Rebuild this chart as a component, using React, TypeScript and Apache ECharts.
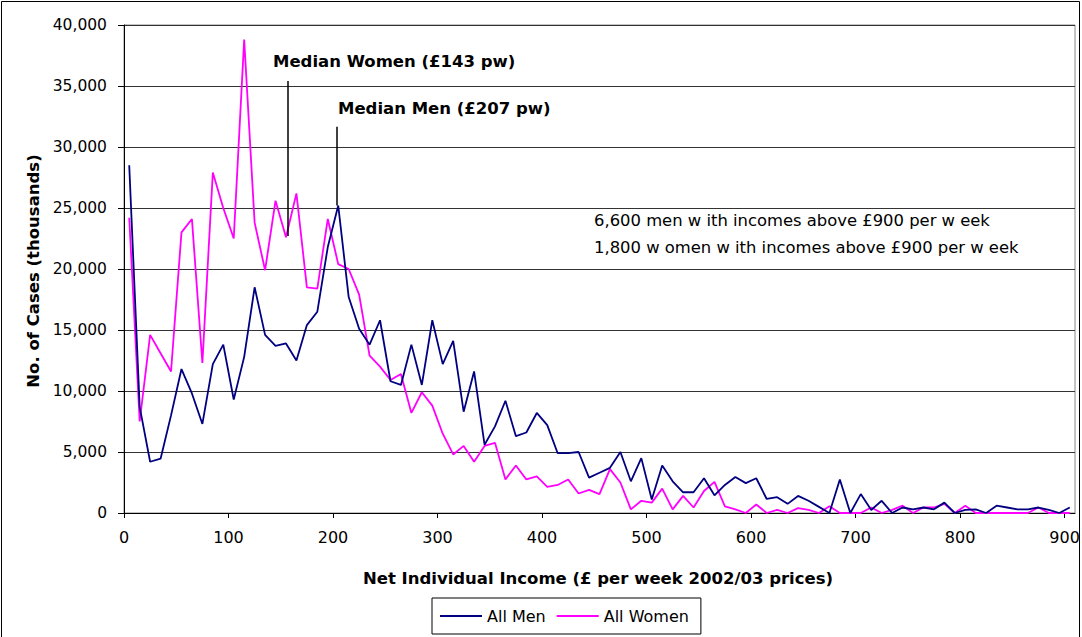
import React, { useEffect, useRef } from "react";
import * as echarts from "echarts";

// Income band mid-points (£ per week)
const incomeBands = [
  5, 15, 25, 35, 45, 55, 65, 75, 85, 95,
  105, 115, 125, 135, 145, 155, 165, 175, 185, 195,
  205, 215, 225, 235, 245, 255, 265, 275, 285, 295,
  305, 315, 325, 335, 345, 355, 365, 375, 385, 395,
  405, 415, 425, 435, 445, 455, 465, 475, 485, 495,
  505, 515, 525, 535, 545, 555, 565, 575, 585, 595,
  605, 615, 625, 635, 645, 655, 665, 675, 685, 695,
  705, 715, 725, 735, 745, 755, 765, 775, 785, 795,
  805, 815, 825, 835, 845, 855, 865, 875, 885, 895,
  905,
];

const allMen = [
  28500, 8700, 4200, 4450, 8000, 11800, 9800, 7300, 12200, 13800,
  9300, 12800, 18500, 14600, 13700, 13900, 12500, 15400, 16500, 21800,
  25200, 17700, 15100, 13800, 15800, 10800, 10500, 13800, 10500, 15800,
  12200, 14100, 8300, 11600, 5600, 7100, 9200, 6300, 6600, 8200,
  7200, 4900, 4900, 5000, 2900, 3300, 3700, 5000, 2600, 4500,
  1100, 3900, 2600, 1700, 1700, 2850, 1450, 2300, 2950, 2450,
  2850, 1150, 1300, 750, 1400, 1000, 500, 0, 2750, 0,
  1550, 250, 1000, 0, 450, 300, 450, 300, 850, 0,
  250, 300, 0, 600, 450, 300, 300, 450, 250, 0,
  450,
];

const allWomen = [
  24200, 7500, 14600, 13100, 11600, 23000, 24100, 12300, 27900, 25000,
  22500, 38800, 23800, 19900, 25600, 22600, 26200, 18500, 18400, 24100,
  20400, 20000, 17900, 12900, 12000, 10900, 11400, 8200, 9900, 8800,
  6500, 4800, 5500, 4200, 5500, 5750, 2750, 3900, 2750, 3000,
  2150, 2300, 2750, 1600, 1900, 1550, 3600, 2500, 300, 1000,
  850, 2000, 300, 1400, 450, 1800, 2550, 550, 300, 0,
  700, 0, 250, 0, 400, 250, 0, 550, 0, 0,
  0, 450, 0, 250, 600, 0, 450, 450, 750, 0,
  600, 0, 0, 0, 0, 0, 0, 450, 0, 0,
  0,
];

const xTickValues = [0, 100, 200, 300, 400, 500, 600, 700, 800, 900];

const medianWomenLine = { x: 157, from: 22700, to: 35400 };
const medianMenLine = { x: 204, from: 25200, to: 31650 };

const medianWomenLabel = "Median Women (£143 pw)";
const medianMenLabel = "Median Men (£207 pw)";
const noteLines = [
  "6,600 men w ith incomes above £900 per w eek",
  "1,800 w omen w ith incomes above £900 per w eek",
];
const yTitle = "No. of Cases (thousands)";
const xTitle = "Net Individual Income (£ per week 2002/03 prices)";

const FONT = '"DejaVu Sans", "Liberation Sans", Arial, sans-serif';

function textEl(
  text: string,
  x: number,
  y: number,
  opts: { bold?: boolean; size?: number; align?: string; rotation?: number }
) {
  const size = opts.size ?? 16;
  const weight = opts.bold ? "bold" : "normal";
  return {
    type: "text",
    x,
    y,
    rotation: opts.rotation ?? 0,
    silent: true,
    style: {
      text,
      fill: "#000",
      font: `${weight} ${size}px ${FONT}`,
      fontSize: size,
      fontWeight: weight,
      fontFamily: FONT,
      align: opts.align ?? "left",
      textAlign: opts.align ?? "left",
      verticalAlign: "middle",
      textVerticalAlign: "middle",
    },
  };
}

export default function App() {
  const ref = useRef<HTMLDivElement>(null);

  useEffect(() => {
    document.body.style.margin = "0";
    if (!ref.current) return;
    const chart = echarts.init(ref.current, undefined, { renderer: "svg" });

    const menData = incomeBands.map((x, i) => [x, allMen[i]]);
    const womenData = incomeBands.map((x, i) => [x, allWomen[i]]);

    const option: any = {
      animation: false,
      backgroundColor: "#fff",
      textStyle: { fontFamily: FONT },
      grid: {
        left: 124,
        top: 25,
        width: 951,
        height: 488,
        containLabel: false,
        outerBoundsMode: "none",
        show: true,
        borderColor: "#888",
        borderWidth: 1,
        backgroundColor: "transparent",
      },
      xAxis: {
        type: "value",
        min: 0,
        max: 910,
        interval: 100,
        axisLine: { show: true, onZero: false, lineStyle: { color: "#000", width: 1 } },
        axisTick: {
          show: true,
          length: 5,
          inside: false,
          customValues: xTickValues,
          lineStyle: { color: "#000" },
        },
        axisLabel: {
          customValues: xTickValues,
          margin: 16,
          fontSize: 16,
          fontFamily: FONT,
          color: "#000",
        },
        splitLine: { show: false },
      },
      yAxis: {
        type: "value",
        min: 0,
        max: 40000,
        interval: 5000,
        axisLine: { show: true, lineStyle: { color: "#000", width: 1 } },
        axisTick: { show: true, length: 6, inside: false, lineStyle: { color: "#000" } },
        axisLabel: {
          margin: 17,
          fontSize: 15.5,
          fontFamily: FONT,
          color: "#000",
          formatter: (v: number) => v.toLocaleString("en-US"),
        },
        splitLine: { show: true, lineStyle: { color: "#333", width: 1 } },
      },
      legend: {
        left: 432,
        top: 598,
        orient: "horizontal",
        padding: [10, 12, 10, 8],
        itemGap: 11,
        itemWidth: 42,
        itemHeight: 2,
        icon: "rect",
        borderColor: "#000",
        borderWidth: 1,
        backgroundColor: "#fff",
        textStyle: { fontSize: 16, fontFamily: FONT, color: "#000" },
        data: ["All Men", "All Women"],
      },
      series: [
        {
          name: "All Men",
          type: "line",
          data: menData,
          showSymbol: false,
          symbol: "none",
          clip: false,
          color: "#000080",
          lineStyle: { color: "#000080", width: 1.8 },
          z: 3,
          markLine: {
            silent: true,
            symbol: ["none", "none"],
            label: { show: false },
            lineStyle: { color: "#000", width: 1.5, type: "solid" },
            data: [
              [
                { coord: [medianWomenLine.x, medianWomenLine.from] },
                { coord: [medianWomenLine.x, medianWomenLine.to] },
              ],
              [
                { coord: [medianMenLine.x, medianMenLine.from] },
                { coord: [medianMenLine.x, medianMenLine.to] },
              ],
            ],
          },
        },
        {
          name: "All Women",
          type: "line",
          data: womenData,
          showSymbol: false,
          symbol: "none",
          clip: false,
          color: "#FF00FF",
          lineStyle: { color: "#FF00FF", width: 1.8 },
          z: 2,
        },
      ],
      graphic: [
        {
          type: "rect",
          silent: true,
          shape: { x: 1.5, y: 1.5, width: 1078, height: 660 },
          style: { fill: "none", stroke: "#000", lineWidth: 1 },
        },
        textEl(yTitle, 33, 271, { bold: true, size: 16.5, align: "center", rotation: Math.PI / 2 }),
        textEl(xTitle, 598, 578, { bold: true, size: 16.5, align: "center" }),
        textEl(medianWomenLabel, 273, 61, { bold: true, size: 16.5 }),
        textEl(medianMenLabel, 338, 108, { bold: true, size: 16.5 }),
        textEl(noteLines[0], 594, 220, { size: 16.4 }),
        textEl(noteLines[1], 594, 247, { size: 16.4 }),
      ],
    };

    chart.setOption(option);
    return () => chart.dispose();
  }, []);

  return <div ref={ref} style={{ width: 1082, height: 637 }} />;
}
